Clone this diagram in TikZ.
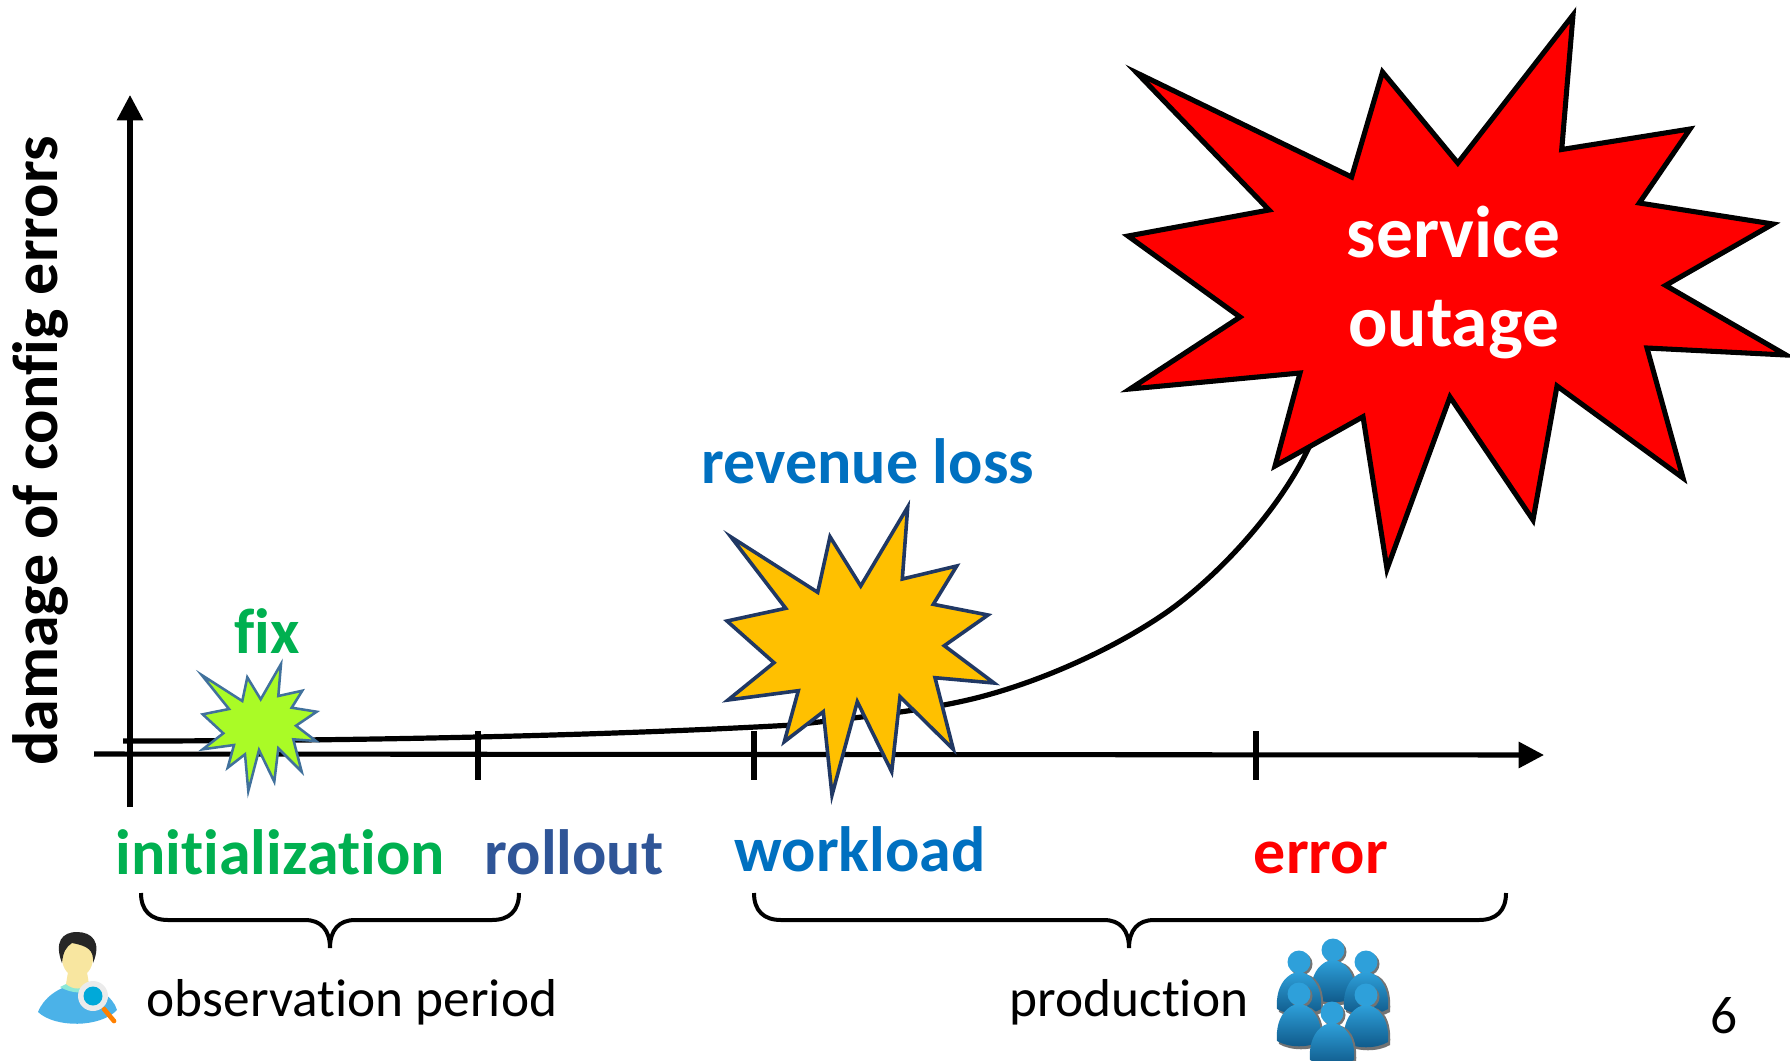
\documentclass[tikz,border=0pt]{standalone}
\usepackage{fontspec}
\setmainfont[Ligatures=NoCommon]{Carlito}
\usetikzlibrary{arrows.meta}

\definecolor{fixgreen}{RGB}{0,176,80}
\definecolor{rolloutblue}{RGB}{47,85,151}
\definecolor{workblue}{RGB}{0,112,192}
\definecolor{burstlime}{RGB}{170,251,38}
\definecolor{burstlimeedge}{RGB}{65,113,156}
\definecolor{burstgold}{RGB}{255,192,0}
\definecolor{burstgoldedge}{RGB}{32,56,100}
\definecolor{teamlight}{RGB}{46,160,218}
\definecolor{teamdark}{RGB}{15,88,136}
\definecolor{skin}{RGB}{248,230,160}
\definecolor{shirt}{RGB}{75,178,232}
\definecolor{collar}{RGB}{140,232,214}

\tikzset{
  axisline/.style={line width=3.8pt,-{Triangle[length=19pt,width=19pt]}},
  tickline/.style={line width=3.8pt},
  bracepath/.style={line width=3pt},
  phaselabel/.style={anchor=base,font=\fontsize{48}{48}\selectfont\bfseries},
  burstlabel/.style={anchor=base,color=white,font=\fontsize{55}{55}\selectfont\bfseries},
  plainlabel/.style={anchor=base,font=\fontsize{40}{40}\selectfont}
}

% one member of the team icon, (#1,#2) is the centre of the head
\newcommand{\teammember}[2]{
\fill [black!55] (#1-20,#2+50) .. controls (#1-24,#2+22) and (#1-8,#2+12) .. (#1+4,#2+12) .. controls (#1+16,#2+12) and (#1+26,#2+24) .. (#1+24,#2+50) .. controls (#1+12,#2+57) and (#1-8,#2+57) .. (#1-20,#2+50) -- cycle;
\fill [black!55] (#1+2,#2+2) circle [radius=11.5];
\shade [top color=teamlight,bottom color=teamdark] (#1-22,#2+47) .. controls (#1-24,#2+22) and (#1-10,#2+10) .. (#1,#2+10) .. controls (#1+10,#2+10) and (#1+24,#2+22) .. (#1+22,#2+47) .. controls (#1+10,#2+54) and (#1-10,#2+54) .. (#1-22,#2+47) -- cycle;
\fill [teamlight] (#1,#2) circle [radius=11.5];
}

\begin{document}
\begin{tikzpicture}[x=0.75pt,y=0.75pt,yscale=-1,xscale=1]
\useasboundingbox (0,0) rectangle (1790,1060);

%Axes
\coordinate (yfoot) at (130,807);
\coordinate (ytop) at (130,95);
\coordinate (xfoot) at (94,754);
\coordinate (xtop) at (1544,755);
\draw [axisline] (yfoot) -- (ytop);
\draw [axisline] (xfoot) -- (xtop);

%Ticks
\foreach \tickx in {478,754,1256} {
  \draw [tickline] (\tickx,731) -- (\tickx,780);
}

%Damage curve
\draw [line width=3.9pt] (123,741) .. controls (300,741) and (560,738) .. (793,725) .. controls (870,716) and (930,710) .. (980,697) .. controls (1045,680) and (1115,648) .. (1167,612) .. controls (1218,576) and (1280,510) .. (1310,445);

%Shape: green burst
\draw [line width=1.9pt,color=burstlimeedge,fill=burstlime,miter limit=20] (201.7,675) -- (242.3,701) -- (247.3,677.3) -- (260.7,699.3) -- (281,664) -- (278.3,696) -- (302.3,690.7) -- (291.7,707.7) -- (316.7,711.7) -- (296,725.7) -- (316,741) -- (293.3,739.3) -- (301.7,771.7) -- (278.3,748.3) -- (274.3,781.7) -- (259,750) -- (248.3,791) -- (245,754.3) -- (227.7,767.7) -- (234,745) -- (202.7,749.3) -- (223.3,733.3) -- (202.7,714.3) -- (229,709) -- cycle;

%Shape: gold burst
\draw [line width=2.7pt,color=burstgoldedge,fill=burstgold,miter limit=20] (731,537) -- (817.7,592.3) -- (830,536.7) -- (860.7,586) -- (907.7,507) -- (902.3,579) -- (956.7,566) -- (933.3,604.3) -- (988,615) -- (944.3,645.7) -- (994,683) -- (935,677.7) -- (953.3,749.3) -- (900,696.7) -- (891.7,771.7) -- (857.3,701.7) -- (832,795) -- (823.3,711.7) -- (784.3,741.7) -- (798.3,690.7) -- (728,700) -- (774,662.7) -- (727,621) -- (785.7,608.3) -- cycle;

%Shape: red burst
\draw [line width=3.8pt,fill=red,miter limit=20] (1137,73) -- (1351.6,177) -- (1382.5,72) -- (1457.8,163) -- (1573,15) -- (1561.7,149.5) -- (1690,129) -- (1639.3,203) -- (1773,224) -- (1665.6,285.4) -- (1786,355) -- (1647,348) -- (1683,478) -- (1557,386) -- (1533,520) -- (1450,397) -- (1387,569) -- (1363,416.7) -- (1275,466) -- (1300,373) -- (1130,389) -- (1240,317) -- (1128,236) -- (1269,210) -- cycle;

%Braces
\draw [bracepath] (141,893) .. controls (141,911) and (151,920) .. (168,920) -- (305,920) .. controls (321,920) and (330,930) .. (330,948) .. controls (330,930) and (339,920) .. (355,920) -- (492,920) .. controls (509,920) and (519,911) .. (519,893);
\draw [bracepath] (754,893) .. controls (754,911) and (764,920) .. (781,920) -- (1104,920) .. controls (1120,920) and (1129,930) .. (1129,948) .. controls (1129,930) and (1138,920) .. (1154,920) -- (1479,920) .. controls (1496,920) and (1506,911) .. (1506,893);

%Observer icon
\fill [shirt] (38,1012) .. controls (44,997) and (58,988) .. (76,983) .. controls (96,986) and (113,996) .. (117,1010) .. controls (100,1028) and (55,1028) .. (38,1012) -- cycle;
\fill [collar] (60,987) -- (68,983) -- (86,983) -- (96,989) .. controls (86,994) and (72,994) .. (60,987) -- cycle;
\fill [skin] (68,972) -- (87,972) -- (89,984) .. controls (82,990) and (73,990) .. (66,984) -- cycle;
\fill [skin] (77.5,958) ellipse [x radius=15.5,y radius=19];
\fill [black!85] (62,963) .. controls (54,942) and (62,932) .. (77,932) .. controls (92,932) and (102,942) .. (93,963) .. controls (94,950) and (88,946) .. (72,943) .. controls (66,947) and (63,952) .. (62,963) -- cycle;
\draw [line width=3.5pt,line cap=round,color=orange] (104,1009) -- (114,1021);
\fill [black!8] (93,996) circle [radius=15];
\fill [workblue!60!cyan] (93,996) circle [radius=9.5];

%Team icon
\foreach \memberx/\membery in {1333/950,1299/962,1366/962,1299/994,1366/995,1332/1013} {
  \teammember{\memberx}{\membery}
}

% Text Node
\node [phaselabel,color=fixgreen] (fixlabel) at (267,653) {fix};
\node [phaselabel,color=workblue] (losslabel) at (868,483) {revenue loss};
\node [phaselabel,color=fixgreen] (initlabel) at (280,874) {initialization};
\node [phaselabel,color=rolloutblue] (rolloutlabel) at (574,874) {rollout};
\node [phaselabel,color=workblue] (worklabel) at (860,871) {workload};
\node [phaselabel,color=red] (errorlabel) at (1321,873) {error};
\node [burstlabel] (servicelabel) at (1453.5,257) {service};
\node [burstlabel] (outagelabel) at (1453.5,346) {outage};
\node [plainlabel] (observelabel) at (352,1016) {observation period};
\node [plainlabel] (prodlabel) at (1129,1016) {production};
\node [plainlabel] (pagelabel) at (1724,1033) {6};
\node [phaselabel,rotate=90] (damagelabel) at (57,451) {damage of config errors};

\end{tikzpicture}
\end{document}
